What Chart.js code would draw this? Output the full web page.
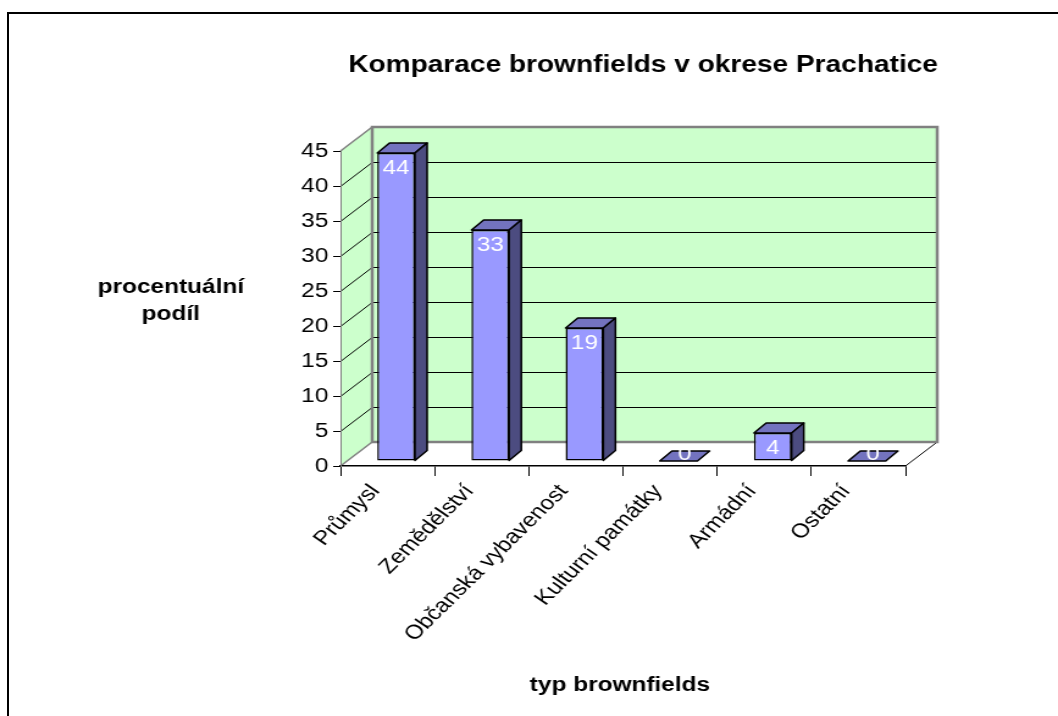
<!DOCTYPE html>
<html>
<head>
<meta charset="utf-8">
<script src="https://cdn.jsdelivr.net/npm/chart.js@4.4.1/dist/chart.umd.min.js"></script>
<style>
  html, body { margin: 0; padding: 0; background: #fff; overflow: hidden; }
  #frame { position: absolute; left: 7px; top: 12px; width: 1200px; height: 900px;
           border-top: 2px solid #000; border-left: 2px solid #000; }
  #wrap { position: absolute; left: 0; top: 0; width: 867px; height: 716px;
          transform: scaleX(1.2203); transform-origin: 0 0; }
</style>
</head>
<body>
<div id="frame"></div>
<div id="wrap"><canvas id="myChart" width="867" height="716"></canvas></div>
<script>
var categories = ["Průmysl", "Zemědělství", "Občanská vybavenost", "Kulturní památky", "Armádní", "Ostatní"];
var values = [44, 33, 19, 0, 4, 0];
var yMin = 0, yMax = 45, yStep = 5;

var chartTitle = "Komparace brownfields v okrese Prachatice";
var yTitle = ["procentuální", "podíl"];
var xTitle = "typ brownfields";

var FONT = "Arial, 'Liberation Sans', sans-serif";
var wallDX = 26, wallDY = 24;   // depth of the 3d box
var barDX = 10, barDY = 10;     // depth of each bar
var barShiftX = 7, barShiftY = 5;

Chart.defaults.font.family = FONT;

// green walls, floor and gridlines behind everything
var walls = {
  id: "walls",
  beforeDraw: function(chart) {
    var ctx = chart.ctx, a = chart.chartArea, ys = chart.scales.y;
    var L = a.left, R = a.right, T = a.top, B = a.bottom;
    ctx.save();
    ctx.fillStyle = "#ccffcc";
    ctx.beginPath();
    ctx.moveTo(L, T); ctx.lineTo(L + wallDX, T - wallDY);
    ctx.lineTo(L + wallDX, B - wallDY); ctx.lineTo(L, B);
    ctx.closePath(); ctx.fill();
    ctx.fillRect(L + wallDX, T - wallDY, R - L, B - T);

    ctx.strokeStyle = "#000"; ctx.lineWidth = 1;
    ys.ticks.forEach(function(t) {
      if (t.value <= yMin || t.value >= yMax) return;
      var y = Math.round(ys.getPixelForValue(t.value)) + 0.5;
      ctx.beginPath();
      ctx.moveTo(L, y); ctx.lineTo(L + wallDX, y - wallDY); ctx.lineTo(R + wallDX, y - wallDY);
      ctx.stroke();
    });

    // floor
    ctx.beginPath();
    ctx.moveTo(R, B); ctx.lineTo(R + wallDX, B - wallDY);
    ctx.stroke();

    ctx.strokeStyle = "#808080"; ctx.lineWidth = 1.5;
    ctx.beginPath();
    ctx.moveTo(L, B); ctx.lineTo(L + wallDX, B - wallDY);
    ctx.moveTo(L, T); ctx.lineTo(L + wallDX, T - wallDY);
    ctx.stroke();
    ctx.lineWidth = 2.5;
    ctx.strokeRect(L + wallDX, T - wallDY, R - L, B - T);
    ctx.restore();
  }
};

// bars sit a bit inside the box, with top and side faces
var bars3d = {
  id: "bars3d",
  beforeDatasetsDraw: function(chart) {
    chart.ctx.save();
    chart.ctx.translate(barShiftX, -barShiftY);
  },
  afterDatasetsDraw: function(chart) {
    var ctx = chart.ctx;
    var meta = chart.getDatasetMeta(0);
    ctx.lineWidth = 1.5;
    ctx.strokeStyle = "#000";
    ctx.lineJoin = "round";
    meta.data.forEach(function(el, i) {
      var p = el.getProps(["x", "y", "base", "width"], true);
      var l = p.x - p.width / 2, r = p.x + p.width / 2, t = p.y, b = p.base;
      ctx.fillStyle = "#7373bf";
      ctx.beginPath();
      ctx.moveTo(l, t); ctx.lineTo(l + barDX, t - barDY); ctx.lineTo(r + barDX, t - barDY); ctx.lineTo(r, t);
      ctx.closePath(); ctx.fill(); ctx.stroke();
      if (b - t > 0.5) {
        ctx.fillStyle = "#4c4c80";
        ctx.beginPath();
        ctx.moveTo(r, t); ctx.lineTo(r + barDX, t - barDY); ctx.lineTo(r + barDX, b - barDY); ctx.lineTo(r, b);
        ctx.closePath(); ctx.fill(); ctx.stroke();
      }
    });
    // value labels
    ctx.fillStyle = "#fff";
    ctx.font = "20px " + FONT;
    ctx.textAlign = "center";
    ctx.textBaseline = "middle";
    meta.data.forEach(function(el, i) {
      var p = el.getProps(["x", "y"], true);
      if (values[i] === 0) ctx.fillText(String(values[i]), p.x + barDX / 2, p.y - barDY / 2 - 2);
      else ctx.fillText(String(values[i]), p.x, p.y + 15);
    });
    ctx.restore();
  }
};

// chart title and axis titles
var titles = {
  id: "titles",
  afterDraw: function(chart) {
    var ctx = chart.ctx;
    ctx.save();
    ctx.fillStyle = "#000";
    ctx.textAlign = "center";
    ctx.textBaseline = "alphabetic";
    ctx.font = "bold 23px " + FONT;
    ctx.fillText(chartTitle, 527, 72);
    ctx.font = "bold 20px " + FONT;
    ctx.fillText(yTitle[0], 140, 293);
    ctx.fillText(yTitle[1], 140, 320);
    ctx.fillText(xTitle, 508, 691);
    ctx.restore();
  }
};

new Chart("myChart", {
  type: "bar",
  data: {
    labels: categories,
    datasets: [{
      data: values,
      backgroundColor: "#9999ff",
      borderColor: "#000",
      borderWidth: 1.5,
      borderSkipped: false,
      barPercentage: 0.4,
      categoryPercentage: 1
    }]
  },
  options: {
    responsive: false,
    animation: false,
    layout: { padding: { left: 229, right: 125, top: 151, bottom: 40 } },
    plugins: {
      legend: { display: false },
      tooltip: { enabled: false }
    },
    scales: {
      x: {
        grid: { drawOnChartArea: false, tickLength: 10, color: "#000", offset: true },
        border: { color: "#000", width: 1.5 },
        ticks: { minRotation: 50, maxRotation: 50, autoSkip: false, color: "#000", font: { size: 20 }, padding: 4, labelOffset: -10 },
        afterFit: function(s) { s.height = 210; }
      },
      y: {
        min: yMin,
        max: yMax,
        ticks: { stepSize: yStep, color: "#000", font: { size: 20 }, padding: 4 },
        grid: { drawOnChartArea: false, tickLength: 6, color: "#000" },
        border: { color: "#808080", width: 1 },
        afterFit: function(s) { s.width = 50; }
      }
    }
  },
  plugins: [walls, bars3d, titles]
});
</script>
</body>
</html>
